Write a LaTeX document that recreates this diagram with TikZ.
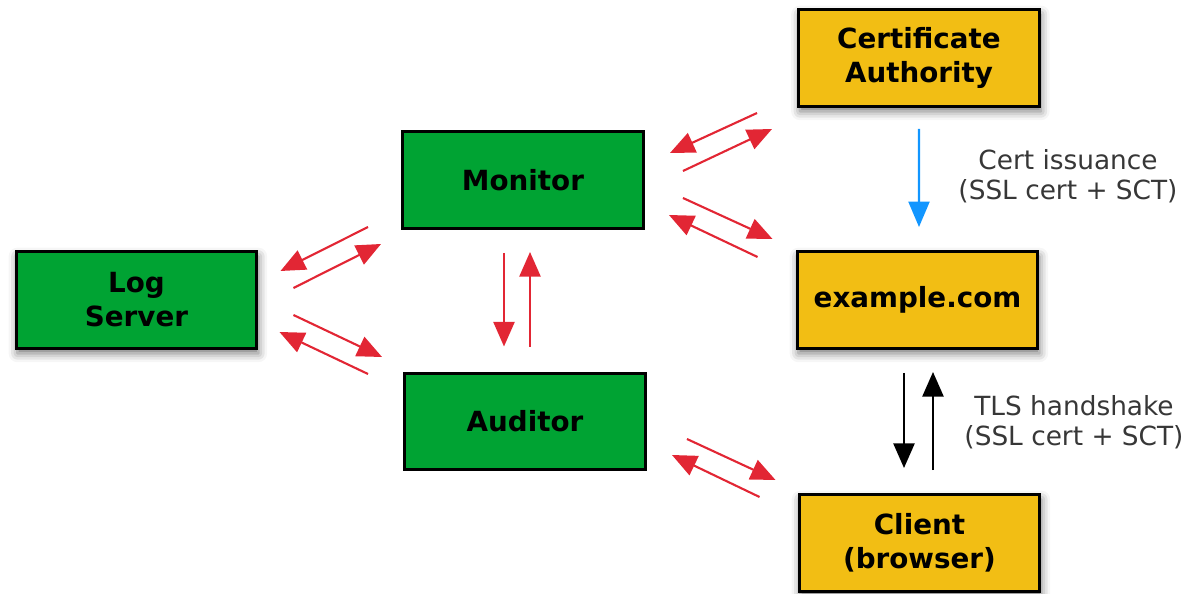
\documentclass[tikz,border=0pt]{standalone}
\usepackage{fontspec}
\setmainfont{DejaVu Sans}
\usetikzlibrary{arrows.meta,calc,shadows.blur}

\definecolor{boxgreen}{RGB}{0,163,51}
\definecolor{boxyellow}{RGB}{242,190,20}
\definecolor{flowred}{RGB}{226,38,52}
\definecolor{flowblue}{RGB}{18,150,255}
\definecolor{labelgray}{RGB}{55,55,55}

\tikzset{
  party/.style={draw=black, line width=1.7pt, rectangle, outer sep=0pt,
    minimum width=4.82cm, minimum height=1.94cm, inner sep=0pt,
    align=center, text=black,
    font=\bfseries\fontsize{15.8}{19.3}\selectfont},
  monitoring/.style={party, fill=boxgreen},
  webparty/.style={party, fill=boxyellow},
  lifted/.style={blur shadow={shadow xshift=0.8pt, shadow yshift=-2.8pt,
    shadow blur radius=5pt, shadow opacity=55}},
  flowlabel/.style={align=center, text=labelgray, inner sep=0pt,
    font=\fontsize{15}{17.2}\selectfont},
  gossip/.style={draw=flowred, line width=1.2pt,
    -{Triangle[length=14pt,width=12pt]}},
  issue/.style={draw=flowblue, line width=1.2pt,
    -{Triangle[length=14.5pt,width=12pt]}},
  handshake/.style={draw=black, line width=1.2pt,
    -{Triangle[length=14pt,width=12pt]}},
}

\begin{document}
\begin{tikzpicture}[x=0.02cm,y=-0.02cm]
  \useasboundingbox (0,0) rectangle (1188,594);

  % parties
  \node[webparty,lifted]   (ca)  at (919,58)    {Certificate\\Authority};
  \node[monitoring]        (mon) at (523,180)   {Monitor};
  \node[monitoring,lifted] (log) at (136.5,300) {Log\\Server};
  \node[webparty,lifted]   (ex)  at (917.5,300) {example.com};
  \node[monitoring]        (aud) at (525,421.5) {Auditor};
  \node[webparty,lifted]   (cli) at (919.5,543) {Client\\(browser)};

  % labels beside the vertical flows
  \node[flowlabel] (issuelbl) at (1068,176) {Cert issuance\\(SSL cert + SCT)};
  \node[flowlabel] (tlslbl)   at (1074,422) {TLS handshake\\(SSL cert + SCT)};

  % monitor <-> certificate authority
  \draw[gossip] ($(ca.west)+(-41.5,55)$) -- ($(mon.east)+(26.5,-27)$);
  \draw[gossip] ($(mon.east)+(39.5,-9)$) -- ($(ca.west)+(-26.5,71)$);

  % monitor <-> example.com
  \draw[gossip] ($(mon.east)+(39.5,18)$) -- ($(ex.west)+(-24.5,-61)$);
  \draw[gossip] ($(ex.west)+(-39.5,-43)$) -- ($(mon.east)+(25.5,35)$);

  % log server <-> monitor
  \draw[gossip] ($(mon.west)+(-34.5,47)$) -- ($(log.east)+(23.5,-29)$);
  \draw[gossip] ($(log.east)+(36.5,-12)$) -- ($(mon.west)+(-21.5,64)$);

  % log server <-> auditor
  \draw[gossip] ($(log.east)+(36.5,15)$) -- ($(aud.west)+(-22.5,-64.5)$);
  \draw[gossip] ($(aud.west)+(-36.5,-47.5)$) -- ($(log.east)+(22.5,32)$);

  % monitor <-> auditor
  \draw[gossip] ($(mon.south)+(-19,24.5)$) -- ($(aud.north)+(-21,-26.5)$);
  \draw[gossip] ($(aud.north)+(5,-26.5)$) -- ($(mon.south)+(7,23.5)$);

  % auditor <-> client
  \draw[gossip] ($(aud.east)+(41.5,17.5)$) -- ($(cli.west)+(-23.5,-63)$);
  \draw[gossip] ($(cli.west)+(-39.5,-46)$) -- ($(aud.east)+(26.5,33.5)$);

  % certificate issuance
  \draw[issue] ($(ca.south)+(0,22.5)$) -- ($(ex.north)+(1.5,-24.5)$);

  % TLS handshake
  \draw[handshake] ($(ex.south)+(-13.5,24.5)$) -- ($(cli.north)+(-15.5,-26.5)$);
  \draw[handshake] ($(cli.north)+(13.5,-24.5)$) -- ($(ex.south)+(15.5,23.5)$);
\end{tikzpicture}
\end{document}
